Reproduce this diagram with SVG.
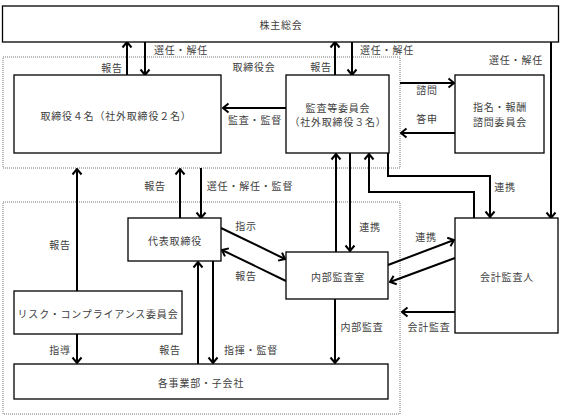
<svg xmlns="http://www.w3.org/2000/svg" width="562" height="416" viewBox="0 0 562 416">
<style>
.box{fill:#fff;stroke:#000;stroke-width:1.3}
.dot{fill:none;stroke:#777;stroke-width:1;stroke-dasharray:1,1}
.c{fill:none;stroke:#000;stroke-width:2}
text{font-family:"Noto Sans CJK JP","Noto Sans CJK SC",sans-serif;font-size:10px;letter-spacing:0.8px;fill:#404040;text-anchor:middle;dominant-baseline:central}
</style>
<defs>
<marker id="a" markerUnits="userSpaceOnUse" viewBox="-7 -6 8 12" markerWidth="8" markerHeight="12" refX="0" refY="0" orient="auto">
<path d="M-5.5,-4.5 L0,0 L-5.5,4.5" fill="none" stroke="#000" stroke-width="2"/>
</marker>
</defs>
<g id="board-area">
<rect class="dot" x="3" y="57" width="397" height="111"/>
<text x="254" y="66">取締役会</text>
</g>
<g id="exec-area">
<rect class="dot" x="3" y="202" width="397" height="212"/>
</g>
<g id="connectors">
<path class="c" marker-end="url(#a)" d="M127,75 V42"/>
<path class="c" marker-end="url(#a)" d="M145,42 V75"/>
<path class="c" marker-end="url(#a)" d="M335,75 V42"/>
<path class="c" marker-end="url(#a)" d="M352,42 V75"/>
<path class="c" marker-end="url(#a)" d="M551,42 V218"/>
<path class="c" marker-end="url(#a)" d="M286,108 H223"/>
<path class="c" marker-end="url(#a)" d="M400,83 H454"/>
<path class="c" marker-end="url(#a)" d="M455,133 H401"/>
<path class="c" marker-end="url(#a)" d="M77,291 V169"/>
<path class="c" marker-end="url(#a)" d="M180,218 V169"/>
<path class="c" marker-end="url(#a)" d="M201,168 V218"/>
<path class="c" marker-end="url(#a)" d="M336,252 V154"/>
<path class="c" marker-end="url(#a)" d="M350,153 V251"/>
<path class="c" marker-end="url(#a)" d="M388,153 V176 H490 V217"/>
<path class="c" marker-end="url(#a)" d="M474,218 V192 H369 V154"/>
<path class="c" marker-end="url(#a)" d="M221,228 L285,259"/>
<path class="c" marker-end="url(#a)" d="M286,281 L222,250"/>
<path class="c" marker-end="url(#a)" d="M388,265 L454,240"/>
<path class="c" marker-end="url(#a)" d="M455,258 L390,282"/>
<path class="c" marker-end="url(#a)" d="M455,312 H402"/>
<path class="c" marker-end="url(#a)" d="M335,299 V363"/>
<path class="c" marker-end="url(#a)" d="M77,334 V363"/>
<path class="c" marker-end="url(#a)" d="M198,364 V262"/>
<path class="c" marker-end="url(#a)" d="M213,261 V363"/>
<text x="112" y="67">報告</text>
<text x="181" y="49">選任・解任</text>
<text x="321" y="66">報告</text>
<text x="387" y="49">選任・解任</text>
<text x="516" y="59">選任・解任</text>
<text x="255" y="119">監査・監督</text>
<text x="427" y="89">諮問</text>
<text x="427" y="118">答申</text>
<text x="155" y="185">報告</text>
<text x="250" y="185">選任・解任・監督</text>
<text x="60" y="244">報告</text>
<text x="246" y="225">指示</text>
<text x="246" y="275">報告</text>
<text x="370" y="226">連携</text>
<text x="505" y="186">連携</text>
<text x="426" y="236">連携</text>
<text x="362" y="326">内部監査</text>
<text x="429" y="326">会計監査</text>
<text x="60" y="349">指導</text>
<text x="170" y="349">報告</text>
<text x="251" y="349">指揮・監督</text>
</g>
<g id="shareholders">
<rect class="box" x="2.5" y="6" width="556" height="36"/>
<text x="281" y="24">株主総会</text>
</g>
<g id="directors">
<rect class="box" x="14" y="75" width="207" height="78"/>
<text x="116" y="115">取締役４名（社外取締役２名）</text>
</g>
<g id="audit-committee">
<rect class="box" x="286" y="75" width="103" height="78"/>
<text x="338" y="107">監査等委員会</text>
<text x="338" y="121">（社外取締役３名）</text>
</g>
<g id="nomination-committee">
<rect class="box" x="455" y="75" width="89" height="78"/>
<text x="500" y="106">指名・報酬</text>
<text x="500" y="121">諮問委員会</text>
</g>
<g id="representative">
<rect class="box" x="128" y="218" width="93" height="43"/>
<text x="175" y="240">代表取締役</text>
</g>
<g id="internal-audit">
<rect class="box" x="286" y="252" width="102" height="47"/>
<text x="338" y="276">内部監査室</text>
</g>
<g id="accounting-auditor">
<rect class="box" x="455" y="218" width="103" height="115"/>
<text x="507" y="276">会計監査人</text>
</g>
<g id="risk-committee">
<rect class="box" x="14" y="291" width="168" height="43"/>
<text x="98" y="313">リスク・コンプライアンス委員会</text>
</g>
<g id="business-units">
<rect class="box" x="14" y="364" width="374" height="35"/>
<text x="201" y="382">各事業部・子会社</text>
</g>
</svg>
